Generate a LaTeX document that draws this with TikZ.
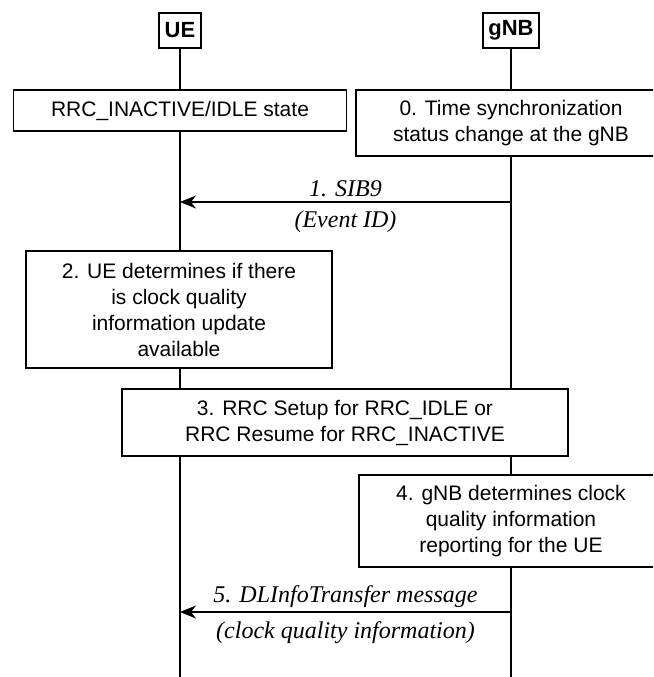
\documentclass[tikz,border=0pt]{standalone}
\usepackage{fontspec}
\setmainfont{Liberation Sans}
\newfontfamily\serifmsg{Liberation Serif}
\usepackage{tikz}
\usetikzlibrary{arrows.meta,positioning}

\begin{document}
\begin{tikzpicture}[
  x=1pt, y=-1pt,
  ent/.style={draw, line width=1.2pt, font=\fontsize{22}{26}\selectfont\bfseries, inner sep=0pt, minimum height=35pt},
  box/.style={draw, line width=1.1pt, fill=white, align=center, inner sep=0pt, font=\fontsize{21}{26}\selectfont},
  msg/.style={font=\serifmsg\itshape\fontsize{24}{28}\selectfont, inner sep=3pt},
  arr/.style={-{Stealth[length=16pt,width=13pt,inset=5pt]}, line width=1.1pt},
  life/.style={line width=1.1pt}
]
\clip (0,0) rectangle (653,677);
% entities and lifelines
\node[ent, minimum width=42pt] (ue) at (180,30.5) {UE};
\node[ent, minimum width=56pt] (gnb) at (511,30.5) {gNB};
\coordinate (ueend) at (180,677);
\coordinate (gnbend) at (511,677);
\draw[life] (ue) -- (ueend);
\draw[life] (gnb) -- (gnbend);

% steps
\node[box, minimum width=333pt, minimum height=41pt] (state) at (180,110.5) {RRC\_INACTIVE/IDLE state};
\node[box, minimum width=310pt, minimum height=66pt] (tsync) at (511,123) {0. Time synchronization\\status change at the gNB};
\node[box, minimum width=306pt, minimum height=117pt] (uedet) at (179,309.5) {2. UE determines if there\\is clock quality\\information update\\available};
\node[box, minimum width=446pt, minimum height=67pt] (rrcsetup) at (345,422.5) {3. RRC Setup for RRC\_IDLE or\\RRC Resume for RRC\_INACTIVE};
\node[box, minimum width=304pt, minimum height=92pt] (gnbdet) at (511,521) {4. gNB determines clock\\quality information\\reporting for the UE};

% messages
\coordinate (sibg) at (511,202);
\coordinate (sibu) at (180,202);
\coordinate (dlg) at (511,612);
\coordinate (dlu) at (180,612);
\draw[arr] (sibg) -- node[msg, above, yshift=2pt]{1. SIB9} node[msg, below, yshift=-5pt]{(Event ID)} (sibu);
\draw[arr] (dlg) -- node[msg, above, yshift=1pt]{5. DLInfoTransfer message} node[msg, below, yshift=-6pt]{(clock quality information)} (dlu);
\end{tikzpicture}
\end{document}
